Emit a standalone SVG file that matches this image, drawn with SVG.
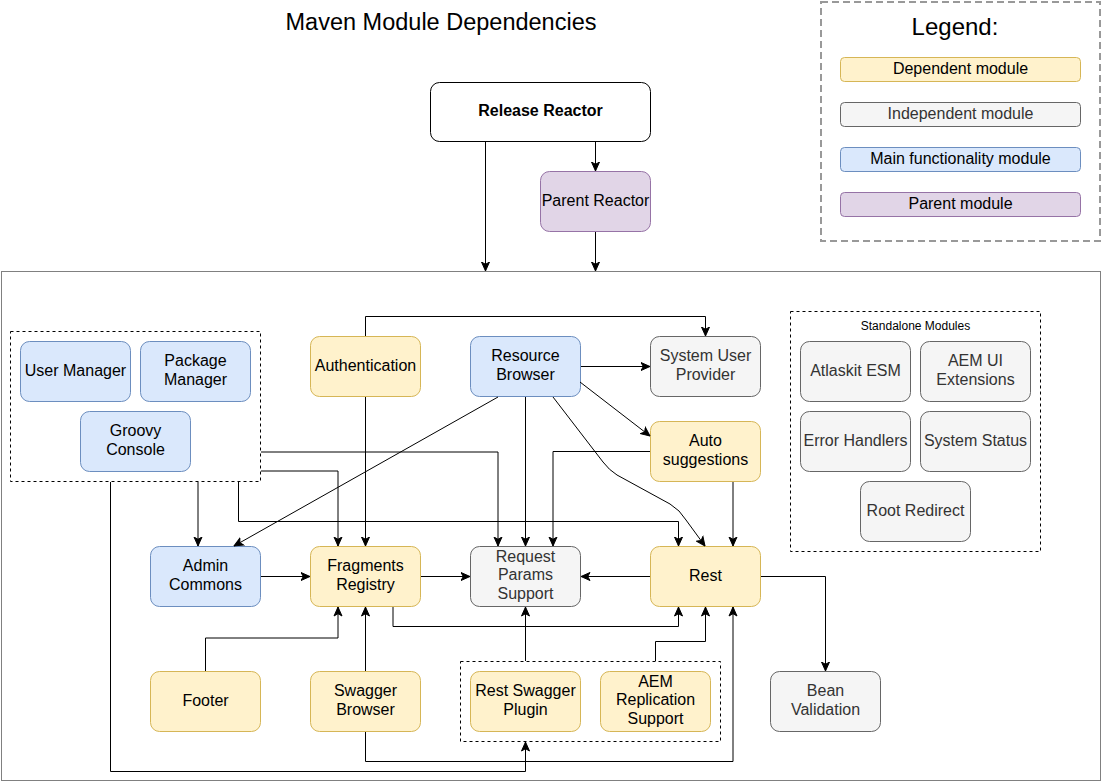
<svg xmlns="http://www.w3.org/2000/svg" width="1102" height="782" viewBox="0 0 1102 782">
<style>
text{font-family:"Liberation Sans",Arial,Helvetica,sans-serif;font-size:16px;text-anchor:middle;fill:#000}
.y{fill:#fff2cc;stroke:#d6b656}
.b{fill:#dae8fc;stroke:#6c8ebf}
.g{fill:#f5f5f5;stroke:#666666}
.p{fill:#e1d5e7;stroke:#9673a6}
.w{fill:#ffffff;stroke:#000000}
.gt{fill:#333333}
.grp{fill:none;stroke:#000;stroke-dasharray:3 3}
.e path{fill:none;stroke:#000;stroke-width:1;marker-end:url(#arr)}
</style>
<defs>
<marker id="arr" markerUnits="userSpaceOnUse" markerWidth="10" markerHeight="10" viewBox="0 0 10 10" refX="9.5" refY="5" orient="auto">
<path d="M0.5,1 L9.5,5 L0.5,9 L2.8,5 z" fill="#000" stroke="#000" stroke-width="1"/>
</marker>
</defs>
<rect width="1102" height="782" fill="#fff"/>
<text id="title" x="441" y="30" style="font-size:23.5px">Maven Module Dependencies</text>

<g id="legend">
<rect x="821" y="2" width="279" height="239" fill="none" stroke="#999999" stroke-width="2" stroke-dasharray="7 4"/>
<text x="955" y="35" style="font-size:24px">Legend:</text>
<rect class="y" x="840.5" y="57.5" width="240" height="24" rx="4"/>
<text x="960.5" y="74">Dependent module</text>
<rect class="g" x="840.5" y="102.5" width="240" height="24" rx="4"/>
<text class="gt" x="960.5" y="119">Independent module</text>
<rect class="b" x="840.5" y="147.5" width="240" height="24" rx="4"/>
<text x="960.5" y="164">Main functionality module</text>
<rect class="p" x="840.5" y="192.5" width="240" height="24" rx="4"/>
<text x="960.5" y="209">Parent module</text>
</g>

<g id="container"><rect x="1.5" y="271.5" width="1099" height="509" fill="none" stroke="#808080"/></g>

<g id="release-reactor"><rect class="w" x="430.5" y="82.5" width="220" height="59" rx="9"/><text x="540.5" y="116" style="font-weight:bold">Release Reactor</text></g>
<g id="parent-reactor"><rect class="p" x="540.5" y="171.5" width="110" height="60" rx="9"/><text x="595.5" y="206">Parent Reactor</text></g>

<g id="group-main-left"><rect class="grp" x="10.5" y="331.5" width="250" height="150"/></g>
<g id="user-manager"><rect class="b" x="20.5" y="341.5" width="110" height="60" rx="9"/><text x="75.5" y="376">User Manager</text></g>
<g id="package-manager"><rect class="b" x="140.5" y="341.5" width="110" height="60" rx="9"/><text x="195.5" y="366">Package</text><text x="195.5" y="385">Manager</text></g>
<g id="groovy-console"><rect class="b" x="80.5" y="411.5" width="110" height="60" rx="9"/><text x="135.5" y="436">Groovy</text><text x="135.5" y="455">Console</text></g>

<g id="authentication"><rect class="y" x="310.5" y="336.5" width="110" height="60" rx="9"/><text x="365.5" y="371">Authentication</text></g>
<g id="resource-browser"><rect class="b" x="470.5" y="336.5" width="110" height="60" rx="9"/><text x="525.5" y="361">Resource</text><text x="525.5" y="380">Browser</text></g>
<g id="system-user-provider"><rect class="g" x="650.5" y="336.5" width="110" height="60" rx="9"/><text class="gt" x="705.5" y="361">System User</text><text class="gt" x="705.5" y="380">Provider</text></g>
<g id="auto-suggestions"><rect class="y" x="650.5" y="421.5" width="110" height="60" rx="9"/><text x="705.5" y="446">Auto</text><text x="705.5" y="465">suggestions</text></g>

<g id="standalone-modules">
<rect class="grp" x="790.5" y="311.5" width="250" height="240"/>
<text x="915.5" y="330" style="font-size:12px">Standalone Modules</text>
</g>
<g id="atlaskit-esm"><rect class="g" x="800.5" y="341.5" width="110" height="60" rx="9"/><text class="gt" x="855.5" y="376">Atlaskit ESM</text></g>
<g id="aem-ui-extensions"><rect class="g" x="920.5" y="341.5" width="110" height="60" rx="9"/><text class="gt" x="975.5" y="366">AEM UI</text><text class="gt" x="975.5" y="385">Extensions</text></g>
<g id="error-handlers"><rect class="g" x="800.5" y="411.5" width="110" height="60" rx="9"/><text class="gt" x="855.5" y="446">Error Handlers</text></g>
<g id="system-status"><rect class="g" x="920.5" y="411.5" width="110" height="60" rx="9"/><text class="gt" x="975.5" y="446">System Status</text></g>
<g id="root-redirect"><rect class="g" x="860.5" y="481.5" width="110" height="60" rx="9"/><text class="gt" x="915.5" y="516">Root Redirect</text></g>

<g id="admin-commons"><rect class="b" x="150.5" y="546.5" width="110" height="60" rx="9"/><text x="205.5" y="571">Admin</text><text x="205.5" y="590">Commons</text></g>
<g id="fragments-registry"><rect class="y" x="310.5" y="546.5" width="110" height="60" rx="9"/><text x="365.5" y="571">Fragments</text><text x="365.5" y="590">Registry</text></g>
<g id="request-params-support"><rect class="g" x="470.5" y="546.5" width="110" height="60" rx="9"/><text class="gt" x="525.5" y="561.5">Request</text><text class="gt" x="525.5" y="580">Params</text><text class="gt" x="525.5" y="598.5">Support</text></g>
<g id="rest"><rect class="y" x="650.5" y="546.5" width="110" height="60" rx="9"/><text x="705.5" y="581">Rest</text></g>

<g id="footer"><rect class="y" x="150.5" y="671.5" width="110" height="60" rx="9"/><text x="205.5" y="706">Footer</text></g>
<g id="swagger-browser"><rect class="y" x="310.5" y="671.5" width="110" height="60" rx="9"/><text x="365.5" y="696">Swagger</text><text x="365.5" y="715">Browser</text></g>
<g id="group-rest-plugins"><rect class="grp" x="460.5" y="661.5" width="260" height="80"/></g>
<g id="rest-swagger-plugin"><rect class="y" x="470.5" y="671.5" width="110" height="60" rx="9"/><text x="525.5" y="696">Rest Swagger</text><text x="525.5" y="715">Plugin</text></g>
<g id="aem-replication-support"><rect class="y" x="600.5" y="671.5" width="110" height="60" rx="9"/><text x="655.5" y="686.5">AEM</text><text x="655.5" y="705">Replication</text><text x="655.5" y="723.5">Support</text></g>
<g id="bean-validation"><rect class="g" x="770.5" y="671.5" width="110" height="60" rx="9"/><text class="gt" x="825.5" y="696">Bean</text><text class="gt" x="825.5" y="715">Validation</text></g>

<g id="connectors" class="e">
<path d="M595.5,142 V171"/>
<path d="M485.5,142 V271"/>
<path d="M595.5,232 V271"/>
<path d="M365.5,336 V316.5 H705.5 V336"/>
<path d="M365.5,397 V546"/>
<path d="M581,366.5 H650"/>
<path d="M580,382 L650,436"/>
<path d="M498,397 L234,546"/>
<path d="M525.5,397 V546"/>
<path d="M553,397 L603,462 Q609,470 617,475 L670,504 Q680,510 686,520 L705,546"/>
<path d="M650,451.5 H553 V546"/>
<path d="M733,482 V546"/>
<path d="M261,452 H498 V546"/>
<path d="M261,471 H338 V546"/>
<path d="M238.5,482 V521.5 H678.5 V546"/>
<path d="M198,482 V546"/>
<path d="M110.5,482 V771.5 H525.5 V742"/>
<path d="M365.5,732 V761.5 H733 V607"/>
<path d="M365.5,671 V607"/>
<path d="M205.5,671 V638 H338 V607"/>
<path d="M393,607 V626.5 H678.5 V607"/>
<path d="M655.5,661 V641.5 H705.5 V607"/>
<path d="M525.5,661 V607"/>
<path d="M261,576.5 H310"/>
<path d="M421,576.5 H470"/>
<path d="M650,576.5 H581"/>
<path d="M761,576.5 H825.5 V671"/>
</g>
</svg>
